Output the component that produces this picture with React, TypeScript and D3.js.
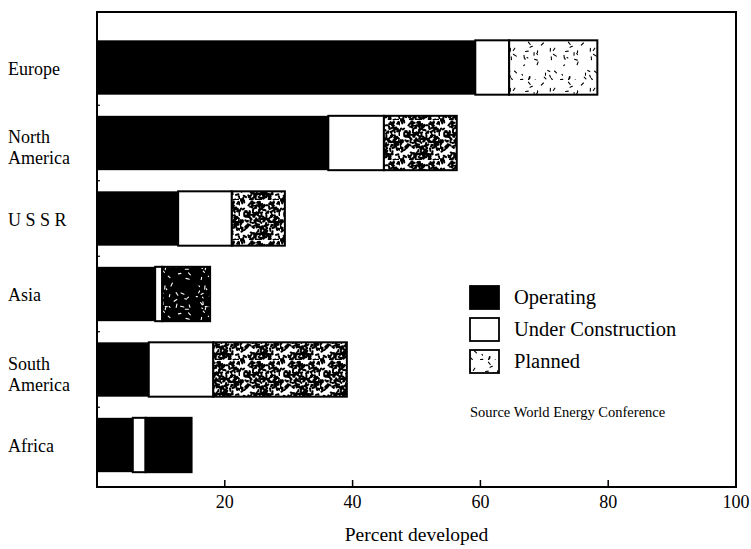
import React from 'react';
import * as d3 from 'd3';

// percent developed, by region
const regions = ['Europe', 'North America', 'U S S R', 'Asia', 'South America', 'Africa'];
const operating = [59.2, 36.2, 12.7, 9.1, 8.1, 5.6];
const underConstruction = [5.3, 8.7, 8.4, 1.1, 10.1, 2.0];
const planned = [13.8, 11.4, 8.3, 7.5, 20.9, 7.2];
const xTicks = [20, 40, 60, 80, 100];
const legendItems = ['Operating', 'Under Construction', 'Planned'];

// how dark the stipple of the "planned" part prints for each region
const plannedTone: Record<string, string> = {
  'Europe': 'stip-light',
  'North America': 'stip-mid',
  'U S S R': 'stip-mid',
  'Asia': 'stip-dark',
  'South America': 'stip-mid',
  'Africa': 'stip-black',
};

const W = 751;
const H = 549;
const frame = { left: 97, top: 12, right: 736, bottom: 487 };
const FONT = '"Liberation Serif", "DejaVu Serif", serif';

// speckle texture tiles (decoration only)
function specks(seed: number, count: number, size: number) {
  const rnd = d3.randomLcg(seed);
  return d3.range(count).map(() => {
    const x = rnd() * size;
    const y = rnd() * size;
    const a = rnd() * Math.PI;
    const l = 1 + rnd() * 2.5;
    return `M${x.toFixed(1)},${y.toFixed(1)}l${(Math.cos(a) * l).toFixed(1)},${(Math.sin(a) * l).toFixed(1)}`;
  }).join('');
}

function Patterns() {
  const s = 40;
  return (
    <defs>
      <pattern id="stip-light" width={s} height={s} patternUnits="userSpaceOnUse">
        <rect width={s} height={s} fill="#fff" />
        <path d={specks(7, 28, s)} stroke="#000" strokeWidth={1.1} strokeLinecap="round" />
      </pattern>
      <pattern id="stip-mid" width={s} height={s} patternUnits="userSpaceOnUse">
        <rect width={s} height={s} fill="#fff" />
        <path d={specks(11, 220, s)} stroke="#000" strokeWidth={2} strokeLinecap="round" />
      </pattern>
      <pattern id="stip-dark" width={s} height={s} patternUnits="userSpaceOnUse">
        <rect width={s} height={s} fill="#000" />
        <path d={specks(23, 30, s)} stroke="#fff" strokeWidth={1.1} strokeLinecap="round" />
      </pattern>
      <pattern id="stip-black" width={s} height={s} patternUnits="userSpaceOnUse">
        <rect width={s} height={s} fill="#000" />
      </pattern>
    </defs>
  );
}

export default function App() {
  const x = d3.scaleLinear().domain([0, 100]).range([frame.left, frame.right]);
  const y = d3.scaleBand<string>()
    .domain(regions)
    .range([29.75, 482.75])
    .paddingInner(0.28)
    .paddingOuter(0.14);
  const bw = y.bandwidth();

  const stacked = regions.map((r, i) => {
    const a = operating[i];
    const b = a + underConstruction[i];
    const c = b + planned[i];
    return { r, segs: [[0, a], [a, b], [b, c]] as [number, number][] };
  });

  const legendX = 470;
  const legendY = [286, 318, 350];

  return (
    <svg width={W} height={H} style={{ position: 'absolute', left: 0, top: 0, background: '#fff' }}
      fontFamily={FONT}>
      <Patterns />
      <rect width={W} height={H} fill="#fff" />

      {stacked.map(d => {
        const y0 = y(d.r) as number;
        return (
          <g key={d.r}>
            <rect x={x(d.segs[0][0])} y={y0} width={x(d.segs[0][1]) - x(d.segs[0][0])} height={bw}
              fill="#000" />
            <rect x={x(d.segs[1][0])} y={y0} width={x(d.segs[1][1]) - x(d.segs[1][0])} height={bw}
              fill="#fff" stroke="#000" strokeWidth={2} />
            <rect x={x(d.segs[2][0])} y={y0} width={x(d.segs[2][1]) - x(d.segs[2][0])} height={bw}
              fill={`url(#${plannedTone[d.r]})`} stroke="#000" strokeWidth={2} />
          </g>
        );
      })}

      {/* frame */}
      <rect x={frame.left} y={frame.top} width={frame.right - frame.left} height={frame.bottom - frame.top}
        fill="none" stroke="#000" strokeWidth={2} />

      {/* x ticks, pointing in */}
      {xTicks.map(t => (
        <g key={t}>
          <line x1={x(t)} x2={x(t)} y1={frame.bottom} y2={frame.bottom - 7} stroke="#000" strokeWidth={1.5} />
          <text x={x(t)} y={frame.bottom + 21} textAnchor="middle" fontSize={18}>{t}</text>
        </g>
      ))}
      <text x={(frame.left + frame.right) / 2} y={frame.bottom + 54} textAnchor="middle" fontSize={19.5}>
        Percent developed
      </text>

      {/* small left ticks between categories */}
      {regions.slice(1).map(r => {
        const yy = (y(r) as number) - (y.step() - bw) / 2;
        return <line key={r} x1={frame.left} x2={frame.left + 3} y1={yy} y2={yy} stroke="#000" strokeWidth={1.2} />;
      })}

      {/* category labels */}
      {regions.map(r => {
        const c = (y(r) as number) + bw / 2;
        const parts = r.split(' ');
        if (r === 'North America' || r === 'South America') {
          return (
            <text key={r} x={8} fontSize={18}>
              <tspan x={8} y={c}>{parts[0]}</tspan>
              <tspan x={8} y={c + 21}>{parts[1]}</tspan>
            </text>
          );
        }
        return <text key={r} x={8} y={c + 7} fontSize={18}>{r}</text>;
      })}

      {/* legend */}
      {legendItems.map((t, i) => (
        <g key={t}>
          <rect x={legendX} y={legendY[i]} width={29} height={23}
            fill={i === 0 ? '#000' : i === 1 ? '#fff' : 'url(#stip-light)'} stroke="#000" strokeWidth={1.8} />
          <text x={514} y={legendY[i] + 18} fontSize={20.5}>{t}</text>
        </g>
      ))}
      <text x={470} y={417} fontSize={14.5}>Source World Energy Conference</text>
    </svg>
  );
}
